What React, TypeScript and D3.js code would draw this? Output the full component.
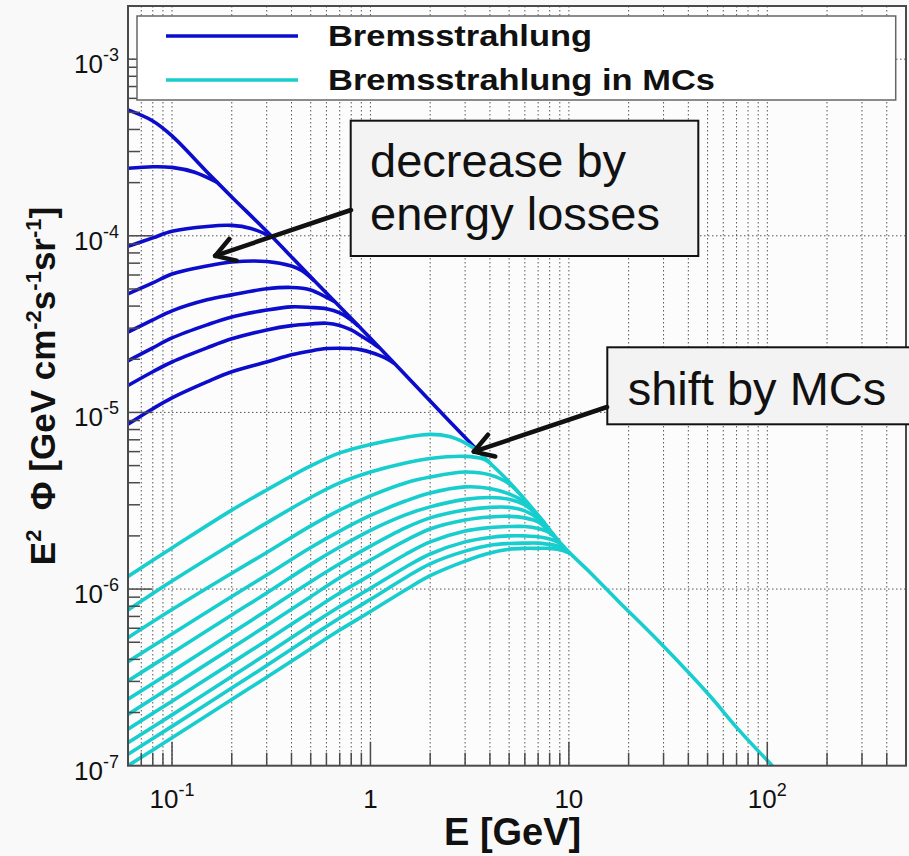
import { useEffect, useRef } from "react";
import * as d3 from "d3";

const W = 909
const H = 856
const FRAME = { left: 128, right: 906, top: 6, bottom: 765.7 }
const BLUE = "#0c0ccc"
const CYAN = "#17cdcd"
const FONT = "'Liberation Sans', Arial, Helvetica, sans-serif"

/* Bremsstrahlung (E in GeV, E^2 Phi in GeV cm^-2 s^-1 sr^-1) */
const B1_E = [0.06, 0.08, 0.1, 0.15, 0.2, 0.3, 0.5, 1, 2, 3.5]
const B1_F = [5.16e-4, 4.47e-4, 3.68e-4, 2.30e-4, 1.66e-4, 1.06e-4, 5.85e-5, 2.63e-5, 1.16e-5, 6.03e-6]
const B2_E = [0.06, 0.08, 0.1, 0.13, 0.17]
const B2_F = [2.41e-4, 2.46e-4, 2.44e-4, 2.29e-4, 2.0e-4]
const B3_E = [0.06, 0.08, 0.1, 0.15, 0.2, 0.25, 0.32]
const B3_F = [8.71e-5, 9.73e-5, 1.06e-4, 1.13e-4, 1.145e-4, 1.10e-4, 9.82e-5]
const B4_E = [0.06, 0.08, 0.1, 0.15, 0.2, 0.3, 0.4, 0.45, 0.52]
const B4_F = [4.69e-5, 5.41e-5, 6.08e-5, 6.75e-5, 7.11e-5, 7.16e-5, 6.75e-5, 6.37e-5, 5.58e-5]
const B5_E = [0.06, 0.08, 0.1, 0.15, 0.2, 0.3, 0.4, 0.5, 0.6, 0.66]
const B5_F = [2.85e-5, 3.34e-5, 3.76e-5, 4.34e-5, 4.63e-5, 5.01e-5, 5.10e-5, 4.94e-5, 4.48e-5, 4.24e-5]
const B6_E = [0.06, 0.08, 0.1, 0.15, 0.2, 0.3, 0.4, 0.5, 0.6, 0.7, 0.8, 0.87]
const B6_F = [1.96e-5, 2.32e-5, 2.64e-5, 3.13e-5, 3.47e-5, 3.80e-5, 3.96e-5, 3.93e-5, 3.86e-5, 3.66e-5, 3.34e-5, 3.08e-5]
const B7_E = [0.06, 0.08, 0.1, 0.15, 0.2, 0.3, 0.4, 0.5, 0.6, 0.7, 0.8, 0.9, 1.0, 1.11]
const B7_F = [1.42e-5, 1.70e-5, 1.93e-5, 2.32e-5, 2.61e-5, 2.93e-5, 3.10e-5, 3.17e-5, 3.20e-5, 3.11e-5, 2.93e-5, 2.71e-5, 2.51e-5, 2.32e-5]
const B8_E = [0.06, 0.08, 0.1, 0.15, 0.2, 0.3, 0.4, 0.5, 0.6, 0.7, 0.8, 0.9, 1.0, 1.2, 1.32]
const B8_F = [8.58e-6, 1.05e-5, 1.21e-5, 1.49e-5, 1.70e-5, 1.93e-5, 2.12e-5, 2.23e-5, 2.30e-5, 2.31e-5, 2.30e-5, 2.26e-5, 2.19e-5, 2.02e-5, 1.89e-5]

/* Bremsstrahlung in MCs */
const C1_E = [0.06, 0.1, 0.2, 0.3, 0.5, 0.7, 1, 1.5, 2, 2.5, 3, 3.5]
const C1_F = [1.18e-6, 1.71e-6, 2.80e-6, 3.64e-6, 4.98e-6, 5.90e-6, 6.59e-6, 7.22e-6, 7.51e-6, 7.31e-6, 6.72e-6, 6.03e-6]
const C2_E = [0.06, 0.1, 0.2, 0.3, 0.5, 0.7, 1, 1.5, 2, 3, 3.7, 4]
const C2_F = [7.61e-7, 1.11e-6, 1.80e-6, 2.37e-6, 3.30e-6, 3.99e-6, 4.60e-6, 5.18e-6, 5.49e-6, 5.64e-6, 5.45e-6, 5.18e-6]
const C3_E = [0.06, 0.1, 0.2, 0.3, 0.5, 0.7, 1, 1.5, 2, 3, 4, 5, 6.3]
const C3_F = [5.31e-7, 7.66e-7, 1.23e-6, 1.61e-6, 2.28e-6, 2.80e-6, 3.37e-6, 3.99e-6, 4.31e-6, 4.60e-6, 4.43e-6, 3.94e-6, 3.0e-6]
const C4_E = [0.06, 0.1, 0.2, 0.3, 0.5, 0.7, 1, 1.5, 2, 3, 4, 5, 6, 6.5]
const C4_F = [3.88e-7, 5.57e-7, 9.08e-7, 1.20e-6, 1.72e-6, 2.13e-6, 2.61e-6, 3.15e-6, 3.50e-6, 3.79e-6, 3.71e-6, 3.46e-6, 3.11e-6, 2.88e-6]
const C5_E = [0.06, 0.1, 0.2, 0.3, 0.5, 0.7, 1, 1.5, 2, 3, 4, 5, 6, 7, 7.5]
const C5_F = [3.02e-7, 4.35e-7, 7.14e-7, 9.50e-7, 1.38e-6, 1.73e-6, 2.15e-6, 2.63e-6, 2.92e-6, 3.22e-6, 3.30e-6, 3.22e-6, 2.99e-6, 2.59e-6, 2.38e-6]
const C6_E = [0.06, 0.1, 0.2, 0.3, 0.5, 0.7, 1, 1.5, 2, 3, 4, 5, 6, 7, 8]
const C6_F = [2.38e-7, 3.42e-7, 5.64e-7, 7.56e-7, 1.10e-6, 1.39e-6, 1.75e-6, 2.22e-6, 2.53e-6, 2.80e-6, 2.90e-6, 2.90e-6, 2.77e-6, 2.50e-6, 2.16e-6]
const C7_E = [0.06, 0.1, 0.2, 0.3, 0.5, 0.7, 1, 1.5, 2, 3, 4, 5, 6, 7, 8, 8.4]
const C7_F = [1.95e-7, 2.82e-7, 4.64e-7, 6.22e-7, 9.06e-7, 1.16e-6, 1.46e-6, 1.88e-6, 2.19e-6, 2.46e-6, 2.56e-6, 2.58e-6, 2.53e-6, 2.40e-6, 2.12e-6, 2.03e-6]
const C8_E = [0.06, 0.1, 0.2, 0.3, 0.5, 0.7, 1, 1.5, 2, 3, 4, 5, 6, 7, 8, 9]
const C8_F = [1.61e-7, 2.32e-7, 3.82e-7, 5.12e-7, 7.45e-7, 9.50e-7, 1.20e-6, 1.57e-6, 1.85e-6, 2.13e-6, 2.23e-6, 2.26e-6, 2.26e-6, 2.20e-6, 2.08e-6, 1.84e-6]
const C9_E = [0.06, 0.1, 0.2, 0.3, 0.5, 0.7, 1, 1.5, 2, 3, 4, 5, 6, 7, 8, 9, 9.5]
const C9_F = [1.35e-7, 1.94e-7, 3.20e-7, 4.29e-7, 6.26e-7, 7.97e-7, 1.01e-6, 1.33e-6, 1.58e-6, 1.85e-6, 1.96e-6, 2.0e-6, 2.0e-6, 1.98e-6, 1.92e-6, 1.82e-6, 1.72e-6]
const C10_E = [0.06, 0.1, 0.2, 0.3, 0.5, 0.7, 1, 1.5, 2, 3, 4, 5, 6, 7, 8, 9, 9.8]
const C10_F = [1.16e-7, 1.67e-7, 2.75e-7, 3.69e-7, 5.38e-7, 6.86e-7, 8.74e-7, 1.16e-6, 1.39e-6, 1.64e-6, 1.77e-6, 1.81e-6, 1.82e-6, 1.82e-6, 1.79e-6, 1.74e-6, 1.65e-6]
const C11_E = [0.06, 0.1, 0.2, 0.3, 0.5, 0.7, 1, 1.5, 2, 3, 4, 5, 6, 7, 8, 9, 10.2]
const C11_F = [1.0e-7, 1.44e-7, 2.37e-7, 3.17e-7, 4.60e-7, 5.86e-7, 7.46e-7, 9.88e-7, 1.19e-6, 1.44e-6, 1.60e-6, 1.68e-6, 1.70e-6, 1.70e-6, 1.70e-6, 1.67e-6, 1.59e-6]
/* common high-energy tail */
const TAIL_E = [3.5, 4, 5, 7, 9.4, 12.9, 17.5, 29, 50, 72, 106]
const TAIL_F = [6.03e-6, 5.18e-6, 4.04e-6, 2.62e-6, 1.74e-6, 1.23e-6, 8.68e-7, 4.93e-7, 2.57e-7, 1.59e-7, 1.0e-7]

const X_DOMAIN = [0.06, 500]
const Y_DOMAIN = [1e-7, 2e-3]
const X_TICKS = [0.1, 1, 10, 100]
const X_TICK_LABELS = [["10", "-1"], ["1", ""], ["10", ""], ["10", "2"]]
const Y_TICKS = [1e-7, 1e-6, 1e-5, 1e-4, 1e-3]
const Y_TICK_LABELS = [["10", "-7"], ["10", "-6"], ["10", "-5"], ["10", "-4"], ["10", "-3"]]
const LEGEND = ["Bremsstrahlung", "Bremsstrahlung in MCs"]
/* arrow tips (E, flux) */
const ARROW_TIPS = [[0.165, 7.7e-5], [3.32, 6.0e-6]]

function zip(e, f) {
    return e.map((v, i) => [v, f[i]])
}

function drawArrow(g, x1, y1, x2, y2) {
    const a = Math.atan2(y1 - y2, x1 - x2)
    const len = 22
    g.append("line").attr("x1", x1).attr("y1", y1).attr("x2", x2).attr("y2", y2)
    ;[-0.55, 0.55].forEach(s => {
        g.append("line")
            .attr("x1", x2).attr("y1", y2)
            .attr("x2", x2 + len * Math.cos(a + s))
            .attr("y2", y2 + len * Math.sin(a + s))
    })
}

export default function App() {
    const svgRef = useRef(null)

    useEffect(() => {
        const svg = d3.select(svgRef.current)
        svg.selectAll("*").remove()
        const x = d3.scaleLog().domain(X_DOMAIN).range([FRAME.left, FRAME.right])
        const y = d3.scaleLog().domain(Y_DOMAIN).range([FRAME.bottom, FRAME.top])
        const pw = FRAME.right - FRAME.left
        const ph = FRAME.bottom - FRAME.top

        svg.append("rect").attr("width", W).attr("height", H).attr("fill", "#f9f9f9")
        svg.append("rect")
            .attr("x", FRAME.left).attr("y", FRAME.top).attr("width", pw).attr("height", ph)
            .attr("fill", "#fcfcfc")
        svg.append("defs").append("clipPath").attr("id", "plotclip")
            .append("rect")
            .attr("x", FRAME.left).attr("y", FRAME.top).attr("width", pw).attr("height", ph)

        /* grid + minor values */
        let minor = []
        for (let d = -2; d <= 2; d++) {
            for (let k = 1; k <= 9; k++) {
                const v = k * Math.pow(10, d)
                if (v > X_DOMAIN[0] * 1.01 && v < X_DOMAIN[1] * 0.99) minor.push(v)
            }
        }
        let minorY = []
        for (let d = -7; d <= -3; d++) {
            for (let k = 1; k <= 9; k++) {
                const v = k * Math.pow(10, d)
                if (v > Y_DOMAIN[0] * 1.01 && v < Y_DOMAIN[1] * 0.99) minorY.push(v)
            }
        }
        const grid = svg.append("g")
            .attr("stroke", "#444").attr("stroke-width", 0.9).attr("stroke-dasharray", "1.5,2.5")
        minor.forEach(v => {
            grid.append("line").attr("x1", x(v)).attr("x2", x(v))
                .attr("y1", FRAME.top).attr("y2", FRAME.bottom)
        })
        Y_TICKS.filter(v => v > Y_DOMAIN[0]).forEach(v => {
            grid.append("line").attr("y1", y(v)).attr("y2", y(v))
                .attr("x1", FRAME.left).attr("x2", FRAME.right)
        })

        /* curves */
        const line = d3.line()
            .x(d => x(d[0]))
            .y(d => y(d[1]))
            .curve(d3.curveCatmullRom.alpha(0.5))
        const curves = svg.append("g").attr("clip-path", "url(#plotclip)")
            .attr("fill", "none").attr("stroke-width", 3.6).attr("stroke-linejoin", "round")
        const brems = [zip(B2_E, B2_F), zip(B3_E, B3_F), zip(B4_E, B4_F), zip(B5_E, B5_F),
            zip(B6_E, B6_F), zip(B7_E, B7_F), zip(B8_E, B8_F), zip(B1_E, B1_F)]
        brems.forEach(s => {
            curves.append("path").attr("d", line(s)).attr("stroke", BLUE)
        })
        const mcs = [zip(C11_E, C11_F), zip(C10_E, C10_F), zip(C9_E, C9_F), zip(C8_E, C8_F),
            zip(C7_E, C7_F), zip(C6_E, C6_F), zip(C5_E, C5_F), zip(C4_E, C4_F),
            zip(C3_E, C3_F), zip(C2_E, C2_F), zip(TAIL_E, TAIL_F), zip(C1_E, C1_F)]
        mcs.forEach(s => {
            curves.append("path").attr("d", line(s)).attr("stroke", CYAN)
        })

        /* frame + ticks */
        const axis = svg.append("g").attr("stroke", "#4a4a4a")
        axis.append("rect")
            .attr("x", FRAME.left).attr("y", FRAME.top).attr("width", pw).attr("height", ph)
            .attr("fill", "none").attr("stroke-width", 2)
        minor.forEach(v => {
            const len = X_TICKS.includes(v) ? 24 : 13
            axis.append("line").attr("x1", x(v)).attr("x2", x(v))
                .attr("y1", FRAME.bottom).attr("y2", FRAME.bottom - len).attr("stroke-width", 1.5)
        })
        minorY.forEach(v => {
            const len = Y_TICKS.some(t => Math.abs(t - v) / t < 1e-6) ? 24 : 12
            axis.append("line").attr("y1", y(v)).attr("y2", y(v))
                .attr("x1", FRAME.left).attr("x2", FRAME.left + len).attr("stroke-width", 1.5)
        })

        /* tick labels */
        const labels = svg.append("g").attr("font-family", FONT).attr("fill", "#111")
        X_TICKS.forEach((v, i) => {
            const t = labels.append("text").attr("x", x(v)).attr("y", 808)
                .attr("text-anchor", "middle").attr("font-size", 26)
            t.append("tspan").text(X_TICK_LABELS[i][0])
            if (X_TICK_LABELS[i][1]) {
                t.append("tspan").attr("dy", -12).attr("font-size", 18).text(X_TICK_LABELS[i][1])
            }
        })
        Y_TICKS.forEach((v, i) => {
            const t = labels.append("text").attr("x", 119).attr("y", y(v) + 14)
                .attr("text-anchor", "end").attr("font-size", 26)
            t.append("tspan").text(Y_TICK_LABELS[i][0])
            t.append("tspan").attr("dy", -12).attr("font-size", 18).text(Y_TICK_LABELS[i][1])
        })

        /* axis titles */
        labels.append("text")
            .attr("x", 444).attr("y", 845)
            .attr("font-size", 38).attr("font-weight", "bold")
            .text("E [GeV]")
        const yt = labels.append("text")
            .attr("transform", "translate(55,386) rotate(-90)")
            .attr("text-anchor", "middle")
            .attr("font-size", 35).attr("font-weight", "bold")
        yt.append("tspan").text("E")
        yt.append("tspan").attr("dy", -14).attr("font-size", 22).text("2")
        yt.append("tspan").attr("dy", 14).text("\u00a0\u00a0\u03a6 [GeV cm")
        yt.append("tspan").attr("dy", -14).attr("font-size", 22).text("-2")
        yt.append("tspan").attr("dy", 14).text("s")
        yt.append("tspan").attr("dy", -14).attr("font-size", 22).text("-1")
        yt.append("tspan").attr("dy", 14).text("sr")
        yt.append("tspan").attr("dy", -14).attr("font-size", 22).text("-1")
        yt.append("tspan").attr("dy", 14).text("]")

        /* legend */
        const leg = svg.append("g")
        leg.append("rect").attr("x", 137).attr("y", 16).attr("width", 758.7).attr("height", 84)
            .attr("fill", "#ffffff").attr("stroke", "#666").attr("stroke-width", 1.5)
        const legWidths = [264, 387]
        const legColors = [BLUE, CYAN]
        LEGEND.forEach((name, i) => {
            const ly = 36 + i * 44
            leg.append("line").attr("x1", 166).attr("x2", 298).attr("y1", ly).attr("y2", ly)
                .attr("stroke", legColors[i]).attr("stroke-width", 3.6)
            leg.append("text").attr("x", 328).attr("y", ly + 9.5)
                .attr("font-family", FONT).attr("font-weight", "bold").attr("font-size", 29)
                .attr("textLength", legWidths[i]).attr("lengthAdjust", "spacingAndGlyphs")
                .attr("fill", "#111")
                .text(name)
        })

        /* annotation boxes */
        const note = svg.append("g").attr("font-family", FONT).attr("fill", "#111")
        note.append("rect").attr("x", 350.7).attr("y", 120.7).attr("width", 347.6).attr("height", 135.3)
            .attr("fill", "#f3f3f3").attr("stroke", "#111").attr("stroke-width", 2)
        note.append("text").attr("x", 370).attr("y", 177).attr("font-size", 47).text("decrease by")
        note.append("text").attr("x", 370).attr("y", 230).attr("font-size", 47).text("energy losses")
        note.append("rect").attr("x", 607.3).attr("y", 347.3).attr("width", 320).attr("height", 77)
            .attr("fill", "#f3f3f3").attr("stroke", "#111").attr("stroke-width", 2)
        note.append("text").attr("x", 627.7).attr("y", 405).attr("font-size", 47).text("shift by MCs")

        /* arrows */
        const arr = svg.append("g").attr("stroke", "#111").attr("stroke-width", 4.5)
            .attr("stroke-linecap", "round")
        drawArrow(arr, 351, 210, x(ARROW_TIPS[0][0]), y(ARROW_TIPS[0][1]))
        drawArrow(arr, 607, 407, x(ARROW_TIPS[1][0]), y(ARROW_TIPS[1][1]))
    }, [])

    return (
        <svg ref={svgRef} width={W} height={H}
            style={{ position: "absolute", left: 0, top: 0, display: "block" }} />
    )
}
